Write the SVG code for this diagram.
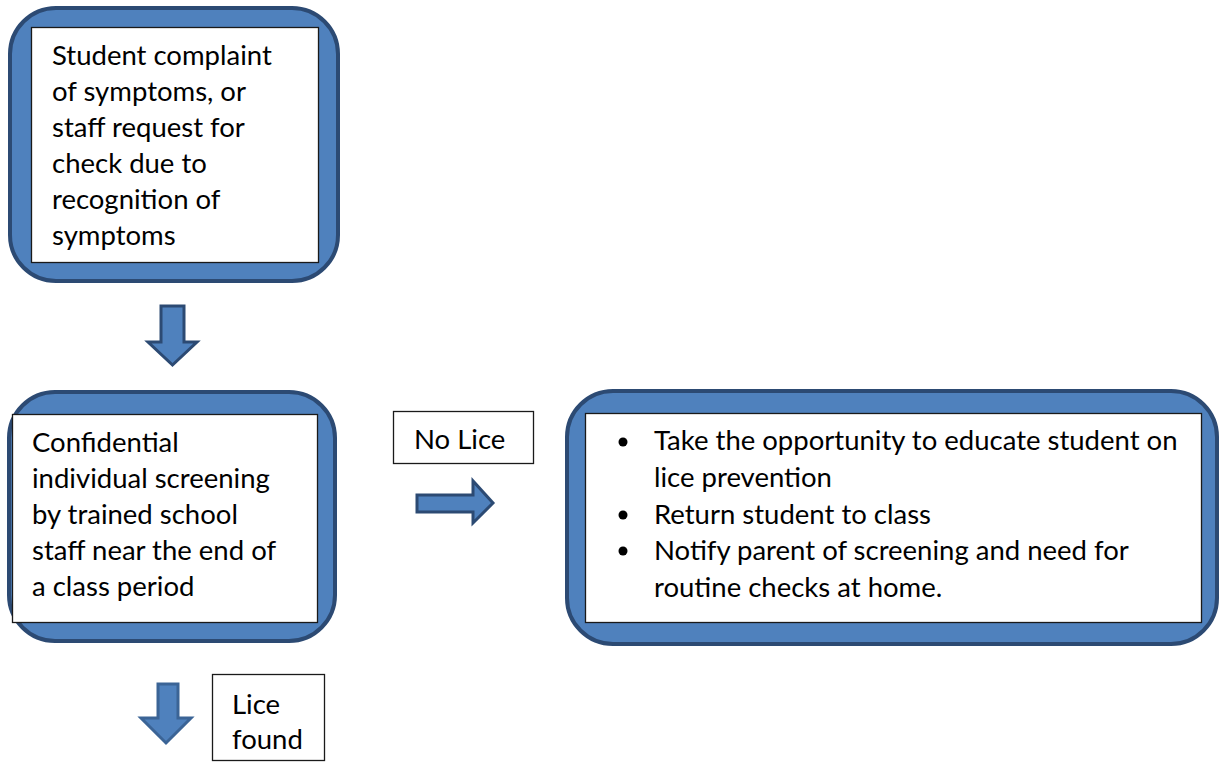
<svg xmlns="http://www.w3.org/2000/svg" width="1220" height="762" viewBox="0 0 1220 762">
<style>
.outer{fill:#4f81bd;stroke:#2c4a73;stroke-width:4}
.inner{fill:#ffffff;stroke:#1a1a1a;stroke-width:1.3}
.lbl{fill:#ffffff;stroke:#1a1a1a;stroke-width:1.3}
.arrow{fill:#4f81bd;stroke:#2c4a73;stroke-width:3;stroke-linejoin:miter}
.arrow2{fill:#4f81bd;stroke:#3b6496;stroke-width:3;stroke-linejoin:miter}
text{font-family:Lato,"Open Sans",sans-serif;font-size:27.5px;fill:#000}
</style>
<rect width="1220" height="762" fill="#ffffff"/>
<g id="node-complaint">
<rect class="outer" x="10" y="8" width="328" height="273" rx="46" ry="46"/>
<rect class="inner" x="31.5" y="27.5" width="287" height="235"/>
<text x="52" y="65">Student complaint</text>
<text x="52" y="101">of symptoms, or</text>
<text x="52" y="137">staff request for</text>
<text x="52" y="173">check due to</text>
<text x="52" y="209">recognition of</text>
<text x="52" y="245">symptoms</text>
</g>
<g id="node-screening">
<rect class="outer" x="9" y="392" width="326" height="249" rx="46" ry="46"/>
<rect class="inner" x="12.5" y="414.5" width="305" height="208"/>
<text x="32" y="452">Confidential</text>
<text x="32" y="488">individual screening</text>
<text x="32" y="524">by trained school</text>
<text x="32" y="560">staff near the end of</text>
<text x="32" y="596">a class period</text>
</g>
<g id="node-nolice-actions">
<rect class="outer" x="567" y="391" width="650" height="253" rx="46" ry="46"/>
<rect class="inner" x="585.5" y="413.5" width="616" height="209"/>
<circle cx="623" cy="442" r="4.5" fill="#000"/>
<circle cx="623" cy="515" r="4.5" fill="#000"/>
<circle cx="623" cy="551" r="4.5" fill="#000"/>
<text x="654" y="450">Take the opportunity to educate student on</text>
<text x="654" y="487">lice prevention</text>
<text x="654" y="524">Return student to class</text>
<text x="654" y="560">Notify parent of screening and need for</text>
<text x="654" y="597">routine checks at home.</text>
</g>
<g id="label-nolice">
<rect class="lbl" x="393.5" y="411.5" width="140" height="52"/>
<text x="414" y="449">No Lice</text>
</g>
<g id="label-licefound">
<rect class="lbl" x="212.5" y="674.5" width="112" height="86"/>
<text x="232" y="714">Lice</text>
<text x="232" y="749">found</text>
</g>
<g id="connectors">
<polygon class="arrow" points="161,306 184,306 184,342 197,342 172.5,365 148,342 161,342"/>
<polygon class="arrow" points="417,495 473,495 473,481 493,503 473,523 473,512 417,512"/>
<polygon class="arrow2" points="158,684 178,684 178,718 191,718 166,743 141,718 158,718"/>
</g>
</svg>
